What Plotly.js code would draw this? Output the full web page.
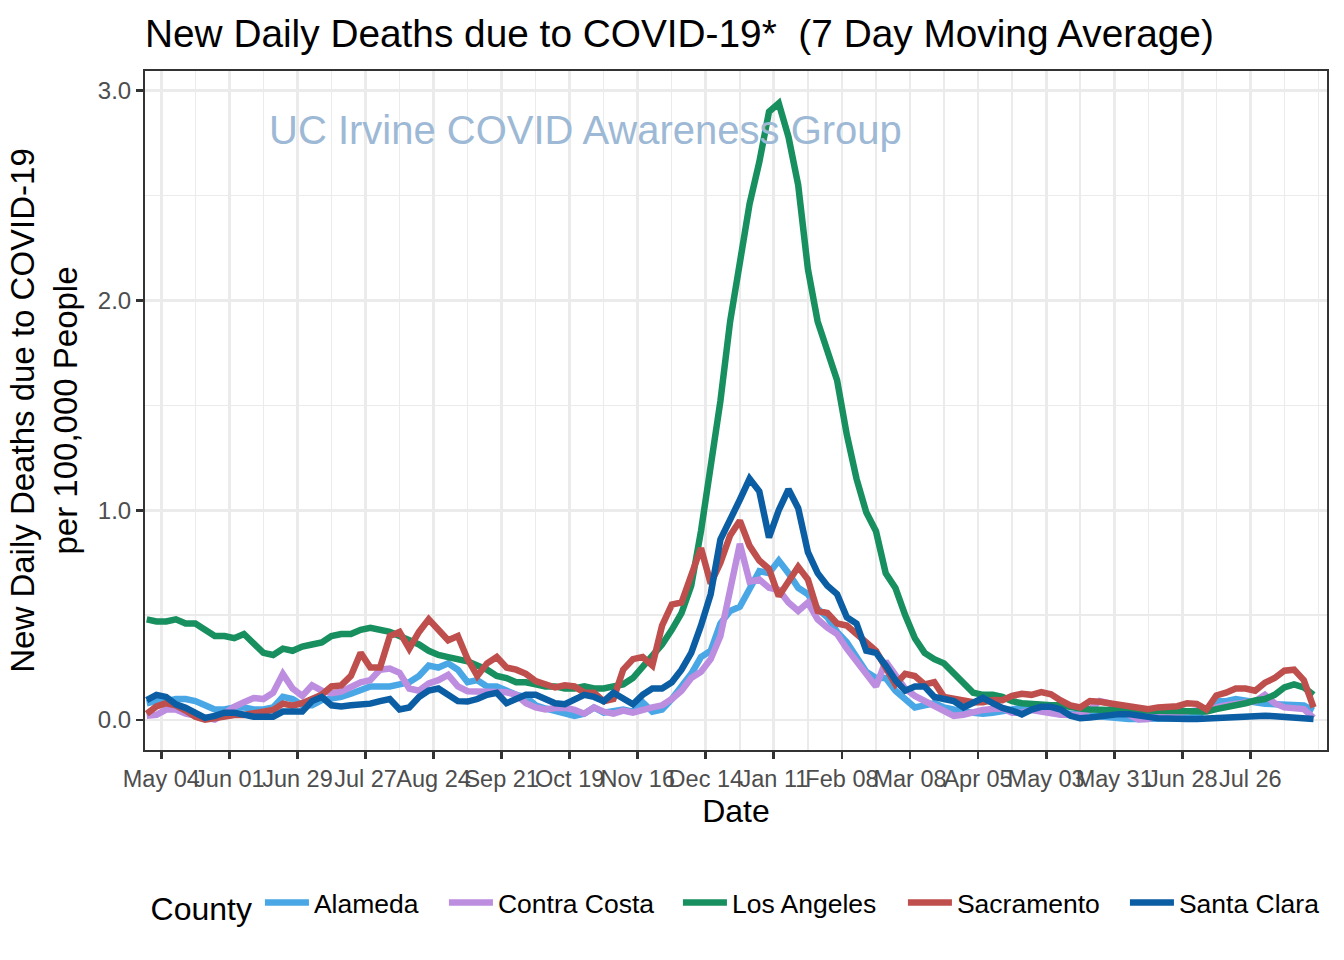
<!DOCTYPE html>
<html>
<head>
<meta charset="utf-8">
<script src="https://cdn.plot.ly/plotly-3.0.1.min.js"></script>
<style>
html, body { margin: 0; padding: 0; background: #ffffff; }
#chart { width: 1344px; height: 960px; }
</style>
</head>
<body>
<div id="chart"></div>
<script>
// Dates of the plotted 7-day moving average values
const dates = [
'2020-04-28','2020-05-02','2020-05-06','2020-05-10','2020-05-14','2020-05-18','2020-05-22','2020-05-26','2020-05-30','2020-06-03',
'2020-06-07','2020-06-11','2020-06-15','2020-06-19','2020-06-23','2020-06-27','2020-07-01','2020-07-05','2020-07-09','2020-07-13',
'2020-07-17','2020-07-21','2020-07-25','2020-07-29','2020-08-02','2020-08-06','2020-08-10','2020-08-14','2020-08-18','2020-08-22',
'2020-08-26','2020-08-30','2020-09-03','2020-09-07','2020-09-11','2020-09-15','2020-09-19','2020-09-23','2020-09-27','2020-10-01',
'2020-10-05','2020-10-09','2020-10-13','2020-10-17','2020-10-21','2020-10-25','2020-10-29','2020-11-02','2020-11-06','2020-11-10',
'2020-11-14','2020-11-18','2020-11-22','2020-11-26','2020-11-30','2020-12-04','2020-12-08','2020-12-12','2020-12-16','2020-12-20',
'2020-12-24','2020-12-28','2021-01-01','2021-01-05','2021-01-09','2021-01-13','2021-01-17','2021-01-21','2021-01-25','2021-01-29',
'2021-02-02','2021-02-06','2021-02-10','2021-02-14','2021-02-18','2021-02-22','2021-02-26','2021-03-02','2021-03-06','2021-03-10',
'2021-03-14','2021-03-18','2021-03-22','2021-03-26','2021-03-30','2021-04-03','2021-04-07','2021-04-11','2021-04-15','2021-04-19',
'2021-04-23','2021-04-27','2021-05-01','2021-05-05','2021-05-09','2021-05-13','2021-05-17','2021-05-21','2021-05-25','2021-05-29',
'2021-06-02','2021-06-06','2021-06-10','2021-06-14','2021-06-18','2021-06-22','2021-06-26','2021-06-30','2021-07-04','2021-07-08',
'2021-07-12','2021-07-16','2021-07-20','2021-07-24','2021-07-28','2021-08-01','2021-08-05','2021-08-09','2021-08-13','2021-08-17',
'2021-08-21'
];

const alameda = [
0.08,0.09,0.09,0.10,0.10,0.09,0.07,0.05,0.05,0.06,
0.06,0.05,0.05,0.06,0.11,0.10,0.07,0.07,0.095,0.10,
0.11,0.125,0.14,0.16,0.16,0.16,0.17,0.18,0.21,0.26,
0.25,0.27,0.24,0.18,0.19,0.16,0.16,0.14,0.12,0.11,
0.07,0.055,0.045,0.035,0.02,0.03,0.06,0.035,0.045,0.05,
0.04,0.085,0.04,0.05,0.10,0.16,0.22,0.30,0.33,0.46,
0.52,0.54,0.62,0.71,0.70,0.76,0.70,0.63,0.60,0.53,
0.49,0.42,0.37,0.30,0.23,0.20,0.20,0.14,0.10,0.06,
0.07,0.08,0.06,0.048,0.04,0.035,0.03,0.035,0.04,0.05,
0.06,0.075,0.07,0.05,0.035,0.03,0.025,0.02,0.016,0.01,
0.008,0.005,0.005,0.005,0.005,0.005,0.008,0.01,0.02,0.05,
0.09,0.09,0.10,0.09,0.085,0.078,0.074,0.07,0.069,0.069,
0.045
];

const contraCosta = [
0.02,0.025,0.05,0.05,0.03,0.02,0.012,0.002,0.03,0.063,
0.085,0.105,0.10,0.13,0.22,0.15,0.115,0.165,0.14,0.128,
0.135,0.16,0.18,0.19,0.24,0.245,0.225,0.15,0.14,0.175,
0.19,0.215,0.16,0.137,0.135,0.135,0.13,0.132,0.12,0.08,
0.06,0.05,0.057,0.058,0.048,0.03,0.06,0.04,0.03,0.045,
0.035,0.05,0.06,0.07,0.10,0.14,0.20,0.23,0.29,0.40,
0.62,0.84,0.66,0.67,0.63,0.62,0.56,0.52,0.56,0.48,
0.44,0.41,0.34,0.28,0.21,0.16,0.28,0.22,0.15,0.115,
0.09,0.068,0.047,0.02,0.025,0.04,0.048,0.052,0.055,0.035,
0.035,0.047,0.04,0.03,0.025,0.024,0.024,0.05,0.09,0.08,
0.05,0.025,0.003,0.005,0.02,0.03,0.035,0.04,0.045,0.05,
0.06,0.07,0.076,0.085,0.09,0.12,0.08,0.06,0.055,0.052,
0.01
];

const losAngeles = [
0.48,0.47,0.47,0.48,0.46,0.46,0.43,0.40,0.40,0.39,
0.41,0.37,0.32,0.31,0.34,0.33,0.35,0.36,0.37,0.40,
0.41,0.41,0.43,0.44,0.43,0.42,0.40,0.38,0.36,0.33,
0.31,0.30,0.29,0.28,0.26,0.24,0.21,0.20,0.18,0.18,
0.17,0.16,0.16,0.15,0.15,0.16,0.15,0.15,0.16,0.17,
0.20,0.25,0.30,0.36,0.43,0.51,0.64,0.90,1.21,1.52,
1.90,2.19,2.46,2.66,2.90,2.94,2.78,2.55,2.15,1.90,
1.77,1.62,1.36,1.15,0.99,0.90,0.70,0.63,0.50,0.39,
0.32,0.29,0.27,0.22,0.17,0.13,0.12,0.12,0.11,0.09,
0.08,0.075,0.07,0.07,0.07,0.06,0.055,0.05,0.047,0.045,
0.045,0.045,0.045,0.045,0.045,0.045,0.042,0.04,0.038,0.04,
0.052,0.06,0.07,0.08,0.093,0.10,0.12,0.155,0.17,0.155,
0.12
];

const sacramento = [
0.03,0.065,0.08,0.07,0.045,0.015,0.002,0.01,0.02,0.024,
0.024,0.03,0.042,0.048,0.078,0.068,0.08,0.10,0.12,0.16,
0.165,0.21,0.32,0.25,0.25,0.40,0.42,0.34,0.42,0.48,
0.43,0.38,0.40,0.29,0.21,0.27,0.30,0.25,0.24,0.22,
0.185,0.17,0.155,0.165,0.16,0.13,0.13,0.09,0.10,0.24,
0.29,0.30,0.26,0.45,0.55,0.56,0.70,0.82,0.65,0.75,
0.88,0.95,0.83,0.76,0.72,0.59,0.66,0.73,0.67,0.52,
0.51,0.46,0.45,0.41,0.36,0.33,0.25,0.17,0.22,0.21,
0.17,0.18,0.11,0.10,0.093,0.085,0.085,0.095,0.094,0.115,
0.125,0.12,0.133,0.123,0.093,0.07,0.06,0.09,0.087,0.08,
0.073,0.06,0.052,0.052,0.06,0.062,0.066,0.08,0.077,0.05,
0.117,0.13,0.15,0.15,0.14,0.178,0.20,0.235,0.24,0.19,
0.06
];

const santaClara = [
0.095,0.12,0.11,0.075,0.058,0.035,0.01,0.02,0.035,0.035,
0.025,0.016,0.016,0.016,0.04,0.04,0.04,0.09,0.11,0.07,
0.065,0.07,0.072,0.078,0.09,0.10,0.05,0.06,0.11,0.14,
0.15,0.12,0.09,0.088,0.10,0.12,0.13,0.08,0.10,0.12,
0.12,0.10,0.08,0.075,0.095,0.12,0.11,0.09,0.13,0.10,
0.075,0.12,0.15,0.15,0.18,0.24,0.32,0.45,0.60,0.86,
0.95,1.05,1.15,1.09,0.87,1.00,1.10,1.01,0.80,0.70,
0.64,0.60,0.49,0.46,0.33,0.32,0.26,0.19,0.14,0.16,
0.16,0.11,0.10,0.09,0.06,0.08,0.105,0.08,0.058,0.045,
0.027,0.05,0.063,0.063,0.05,0.02,0.008,0.012,0.018,0.025,
0.028,0.028,0.025,0.015,0.008,0.005,0.005,0.005,0.005,0.007,
0.01,0.013,0.016,0.02,0.02,0.02,0.018,0.014,0.012,0.008,
0.005
];

const counties = ['Alameda', 'Contra Costa', 'Los Angeles', 'Sacramento', 'Santa Clara'];
const seriesValues = [alameda, contraCosta, losAngeles, sacramento, santaClara];
const countyColors = ['#4AA7E6', '#BD8DE0', '#178F5E', '#BF4F4C', '#0B5EA3'];
const legendEntryWidths = [125, 175, 166, 163, 142];

const tickDates = ['2020-05-04','2020-06-01','2020-06-29','2020-07-27','2020-08-24','2020-09-21','2020-10-19','2020-11-16',
  '2020-12-14','2021-01-11','2021-02-08','2021-03-08','2021-04-05','2021-05-03','2021-05-31','2021-06-28','2021-07-26'];
const tickLabels = ['May 04','Jun 01','Jun 29','Jul 27','Aug 24','Sep 21','Oct 19','Nov 16',
  'Dec 14','Jan 11','Feb 08','Mar 08','Apr 05','May 03','May 31','Jun 28','Jul 26'];
const yTickValues = [0, 1, 2, 3];
const yTickLabels = ['0.0', '1.0', '2.0', '3.0'];

const FONT = 'Liberation Sans, Arial, Helvetica, sans-serif';

const traces = counties.map((name, i) => ({
  type: 'scatter',
  mode: 'lines',
  name: name,
  x: dates,
  y: seriesValues[i],
  line: { color: countyColors[i], width: 6.5 },
  legendwidth: legendEntryWidths[i],
  hoverinfo: 'skip'
}));

const layout = {
  width: 1344,
  height: 960,
  paper_bgcolor: '#ffffff',
  plot_bgcolor: '#ffffff',
  font: { family: FONT, color: '#000000' },
  margin: { l: 145, r: 17, t: 71, b: 210, pad: 0 },
  title: {
    text: 'New Daily Deaths due to COVID-19*\u00a0 (7 Day Moving Average)',
    font: { family: FONT, size: 38.8, color: '#000000' },
    xref: 'paper', x: 0, xanchor: 'left',
    yref: 'container', y: 1 - 33 / 960, yanchor: 'middle'
  },
  xaxis: {
    type: 'date',
    range: ['2020-04-27 07:00', '2021-08-26 13:00'],
    tickmode: 'array',
    tickvals: tickDates,
    ticktext: tickLabels,
    tickangle: 0,
    tickfont: { family: FONT, size: 23.5, color: '#4D4D4D' },
    ticks: 'outside', ticklen: 7, tickwidth: 2.8, tickcolor: '#333333',
    showgrid: true, gridcolor: '#EBEBEB', gridwidth: 2.8,
    minor: { tick0: '2020-05-18', dtick: 14 * 86400000, showgrid: true, gridcolor: '#EBEBEB', gridwidth: 1.4, ticks: '' },
    showline: true, mirror: true, linecolor: '#333333', linewidth: 2,
    zeroline: false,
    title: { text: 'Date', font: { family: FONT, size: 32, color: '#000000' }, standoff: 8 }
  },
  yaxis: {
    range: [-0.143, 3.094],
    tickmode: 'array',
    tickvals: yTickValues,
    ticktext: yTickLabels,
    tickfont: { family: FONT, size: 24, color: '#4D4D4D' },
    ticks: 'outside', ticklen: 7, tickwidth: 2.8, tickcolor: '#333333',
    showgrid: true, gridcolor: '#EBEBEB', gridwidth: 2.8,
    minor: { tick0: 0, dtick: 0.5, showgrid: true, gridcolor: '#EBEBEB', gridwidth: 1.4, ticks: '' },
    showline: true, mirror: true, linecolor: '#333333', linewidth: 2,
    zeroline: false,
    title: { text: 'New Daily Deaths due to COVID-19<br>per 100,000 People', font: { family: FONT, size: 33, color: '#000000' }, standoff: 10 }
  },
  showlegend: true,
  legend: {
    orientation: 'h',
    x: 0.003, xanchor: 'left',
    y: -0.228, yanchor: 'middle',
    itemwidth: 44,
    font: { family: FONT, size: 26.5, color: '#000000' },
    title: { text: 'County', side: 'left', font: { family: FONT, size: 32, color: '#000000' } },
    bgcolor: 'rgba(0,0,0,0)',
    traceorder: 'normal'
  },
  annotations: [{
    text: 'UC Irvine COVID Awareness Group',
    xref: 'x', yref: 'y',
    x: '2020-10-25 14:00', y: 2.815,
    xanchor: 'center', yanchor: 'middle',
    showarrow: false,
    font: { family: FONT, size: 40, color: '#9DB9D5' }
  }],
  hovermode: false
};

Plotly.newPlot('chart', traces, layout, { staticPlot: true, displayModeBar: false });
</script>
</body>
</html>
